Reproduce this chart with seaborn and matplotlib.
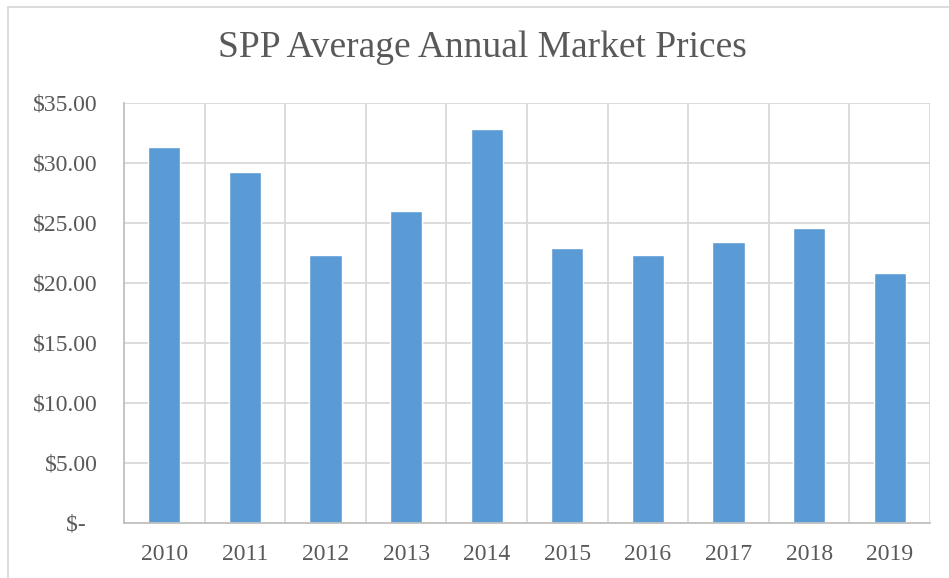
import matplotlib.pyplot as plt
import seaborn as sns
import pandas as pd
from matplotlib.lines import Line2D

# Datos
years = ["2010", "2011", "2012", "2013", "2014", "2015", "2016", "2017", "2018", "2019"]
prices = [31.33, 29.27, 22.30, 25.97, 32.83, 22.94, 22.36, 23.44, 24.58, 20.86]
y_ticks = [0, 5, 10, 15, 20, 25, 30, 35]
y_tick_labels = ["$-  ", "$5.00", "$10.00", "$15.00", "$20.00", "$25.00", "$30.00", "$35.00"]

df = pd.DataFrame({"Year": years, "Price": prices})

sns.set_style("white")
plt.rcParams["font.family"] = ["Liberation Serif", "DejaVu Serif"]

text_color = "#595959"
grid_color = "#D9D9D9"

fig = plt.figure(figsize=(9.49, 5.78), dpi=100)
ax = fig.add_axes([124 / 949, 55 / 578, 806 / 949, 420 / 578])

sns.barplot(data=df, x="Year", y="Price", color="#5B9BD5", width=0.4,
            saturation=1, ax=ax, zorder=3)

ax.set_xlim(-0.5, len(years) - 0.5)
ax.set_ylim(0, 35)
ax.set_yticks(y_ticks)
ax.set_yticklabels(y_tick_labels)

# Rejilla horizontal y vertical (límites de categoría)
for y in y_ticks[1:]:
    ax.axhline(y, color=grid_color, lw=1.3, zorder=1)
for i in range(len(years)):
    ax.axvline(i + 0.5, color=grid_color, lw=1.3, zorder=1)

for s in ["top", "right"]:
    ax.spines[s].set_visible(False)
for s in ["left", "bottom"]:
    ax.spines[s].set_color("#BFBFBF")
    ax.spines[s].set_linewidth(1.3)
    ax.spines[s].set_zorder(4)

ax.tick_params(axis="y", length=0, pad=19, labelsize=17, labelcolor=text_color)
ax.tick_params(axis="x", length=0, pad=15, labelsize=17, labelcolor=text_color)
ax.set_xlabel("")
ax.set_ylabel("")

fig.text(482 / 949, 1 - 48 / 578, "SPP Average Annual Market Prices",
         ha="center", va="center", fontsize=27, color=text_color)

# Borde del área del gráfico
fig.add_artist(Line2D([8 / 949, 8 / 949], [0, 1 - 7 / 578], transform=fig.transFigure,
                      color=grid_color, lw=1.3))
fig.add_artist(Line2D([8 / 949, 1], [1 - 7 / 578, 1 - 7 / 578], transform=fig.transFigure,
                      color=grid_color, lw=1.3))

plt.savefig("out.png", dpi=100)
